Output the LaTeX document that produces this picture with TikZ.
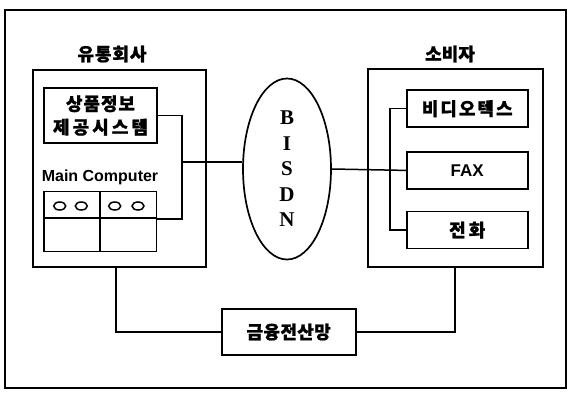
\documentclass[tikz,border=0pt]{standalone}
\usepackage{fontspec}
\setmainfont{Liberation Serif}
\setsansfont{Liberation Sans}
\newfontfamily\kofont{Noto Sans CJK KR}
\usetikzlibrary{shapes.geometric,positioning,calc}
\newcommand{\ko}[2][5]{{\kofont\bfseries\addfontfeature{LetterSpace=#1,FakeBold=1}#2}}

\begin{document}
\begin{tikzpicture}[x=1pt, y=-1pt, line width=1.5pt,
    bigbox/.style={draw, rectangle, line width=2pt, inner sep=0pt},
    subbox/.style={draw, rectangle, line width=1.7pt, inner sep=0pt, minimum width=121pt, minimum height=37pt,
      font=\fontsize{18}{20}\selectfont},
    title/.style={font=\fontsize{18}{20}\selectfont},
    latin/.style={font=\sffamily\bfseries\fontsize{16}{18}\selectfont}]
    \useasboundingbox (0,0) rectangle (567,394);
    \draw[line width=2pt] (5,10) rectangle (566,388);

    \node[bigbox, minimum width=173pt, minimum height=197pt] (company) at (119.5,168.5) {};
    \node[title] (companylbl) at (112,54) {\ko{유통회사}};
    \node[bigbox, minimum width=175pt, minimum height=198pt] (consumer) at (455.2,167.6) {};
    \node[title] (consumerlbl) at (450,54) {\ko[0]{소비자}};

    \node[draw, rectangle, line width=1.7pt, minimum width=113pt, minimum height=55pt, align=center,
      font=\fontsize{18}{23.5}\selectfont] (info) at (100.5,115.5) {\ko{상품정보}\\\ko[17]{제공시스템}};
    \node[latin] (maintxt) at (100,177) {Main Computer};
    \node[draw, rectangle, line width=1.7pt, minimum width=112.5pt, minimum height=60pt] (computer) at (100.2,221.5) {};
    \draw[line width=1.7pt] (computer.north) -- (computer.south);
    \draw[line width=1.7pt] ($(computer.north west)!0.44!(computer.south west)$) -- ($(computer.north east)!0.44!(computer.south east)$);
    \foreach \ox in {59.7,81.3,114.7,138}
      \draw[line width=1.5pt] (\ox,206) ellipse [x radius=6pt, y radius=4pt];

    \node[draw, ellipse, line width=1.7pt, inner sep=0pt, minimum width=88pt, minimum height=181pt, align=center,
      font=\bfseries\fontsize{21}{25.5}\selectfont] (BISDN) at (287,169) {B\\I\\S\\D\\N};

    \node[subbox] (video) at (467.2,108.7) {\ko[11]{비디오텍스}};
    \node[subbox, below=23pt of video] (fax) {\sffamily\bfseries\fontsize{17}{18}\selectfont FAX};
    \node[subbox, below=21pt of fax] (phone) {\ko[17]{전화}};

    \node[draw, rectangle, line width=1.8pt, minimum width=134pt, minimum height=46pt, font=\fontsize{18}{20}\selectfont]
      (bank) at (288.7,332) {\ko[2]{금융전산망}};

    \coordinate (junc) at (182,162);
    \draw (info.east) -| (junc) |- (computer.east |- 0,219);
    \draw (junc) -- (junc -| BISDN.west);
    \draw (BISDN.east) -- (fax.west);
    \draw (video.west) -- ++(-16,0) |- (phone.west);
    \draw ([xshift=-3.5pt]company.south) |- (bank.west);
    \draw (consumer.south) |- (bank.east);
  \end{tikzpicture}
\end{document}
